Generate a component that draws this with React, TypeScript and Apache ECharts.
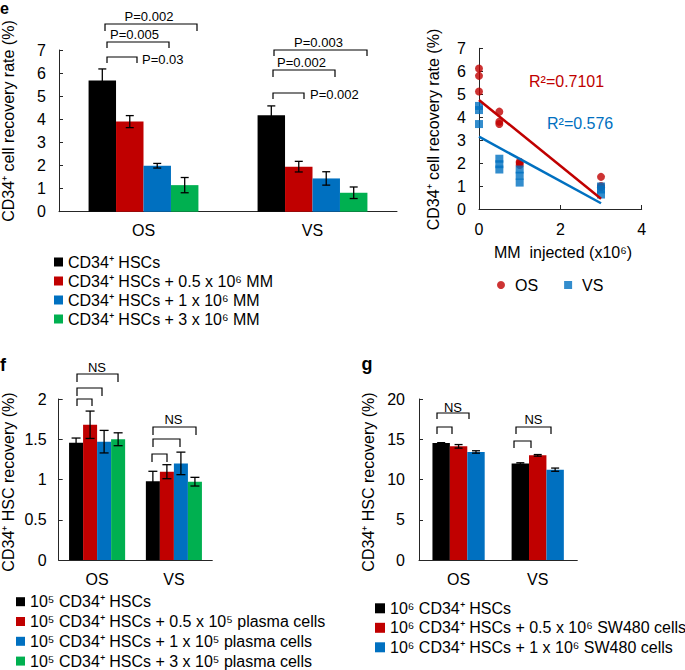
import React, { useEffect, useRef } from 'react';
import * as echarts from 'echarts';

const FONT = '"Liberation Sans", Arial, Helvetica, sans-serif';
const AXIS_COLOR = '#262626';
const barColors = ['#000000', '#C00000', '#0070C0', '#00B050'];
const red = '#C00000';
const blue = '#0070C0';

// ---------- data ----------
const categories = ['OS', 'VS'];

// panel e (means per series: [OS, VS])
const eNames = [
  'CD34⁺ HSCs',
  'CD34⁺ HSCs + 0.5 x 10⁶ MM',
  'CD34⁺ HSCs + 1 x 10⁶ MM',
  'CD34⁺ HSCs + 3 x 10⁶ MM',
];
const eMeans = [
  [5.68, 4.18],
  [3.9, 1.95],
  [1.99, 1.44],
  [1.15, 0.82],
];
const eErrs = [
  [0.5, 0.4],
  [0.26, 0.23],
  [0.1, 0.29],
  [0.33, 0.25],
];

// scatter panel
const mmInjected = [0, 0, 0, 0.5, 0.5, 0.5, 1, 1, 1, 3, 3, 3];
const osRates = [6.12, 5.8, 5.12, 4.24, 3.8, 3.7, 2.06, 2.0, 1.92, 1.4, 1.0, 0.95];
const vsRates = [4.49, 4.31, 3.7, 2.19, 1.95, 1.72, 1.72, 1.45, 1.15, 0.98, 0.85, 0.63];
const osFit = [[0, 4.75], [3, 0.45]];
const vsFit = [[0, 3.15], [3, 0.25]];
const osR2 = 'R²=0.7101';
const vsR2 = 'R²=0.576';

// panel f
const fNames = [
  '10⁵ CD34⁺ HSCs',
  '10⁵ CD34⁺ HSCs + 0.5 x 10⁵ plasma cells',
  '10⁵ CD34⁺ HSCs + 1 x 10⁵ plasma cells',
  '10⁵ CD34⁺ HSCs + 3 x 10⁵ plasma cells',
];
const fMeans = [
  [1.455, 0.977],
  [1.68, 1.097],
  [1.47, 1.2],
  [1.5, 0.973],
];
const fErrs = [
  [0.06, 0.125],
  [0.17, 0.087],
  [0.14, 0.14],
  [0.08, 0.054],
];

// panel g
const gNames = [
  '10⁶ CD34⁺ HSCs',
  '10⁶ CD34⁺ HSCs + 0.5 x 10⁶ SW480 cells',
  '10⁶ CD34⁺ HSCs + 1 x 10⁶ SW480 cells',
];
const gMeans = [
  [14.53, 11.98],
  [14.12, 13.0],
  [13.42, 11.22],
];
const gErrs = [
  [0.05, 0.1],
  [0.22, 0.1],
  [0.15, 0.2],
];

// ---------- annotation layout (pixels) ----------
const brackets = [
  // e OS
  [105, 197, 24, 31], [107, 169, 42, 48], [107, 137, 57, 63],
  // e VS
  [274, 367, 50, 56], [273, 335, 70, 77], [273, 304, 93, 99],
  // f OS
  [77, 118, 374, 382], [77, 102, 388, 396], [77, 92, 399, 406],
  // f VS
  [153, 196, 427, 435], [153, 180, 439, 447], [152, 167, 454, 462],
  // g OS
  [437, 469, 413, 419], [437, 452, 427, 434],
  // g VS
  [516, 551, 427, 434], [514, 531, 441, 448],
];
const smallLabels: [string, number, number, string][] = [
  ['P=0.002', 149, 16, 'center'],
  ['P=0.005', 134.5, 34, 'center'],
  ['P=0.03', 142, 59, 'left'],
  ['P=0.003', 318.5, 42, 'center'],
  ['P=0.002', 301.5, 62, 'center'],
  ['P=0.002', 310, 94, 'left'],
  ['NS', 97, 367, 'center'],
  ['NS', 173.5, 419.5, 'center'],
  ['NS', 453, 407, 'center'],
  ['NS', 533.5, 419.5, 'center'],
];

function txt(text: string, x: number, y: number, size: number, opts: any = {}) {
  const align = opts.align || 'center';
  return {
    type: 'text',
    x,
    y,
    rotation: opts.rotation || 0,
    silent: true,
    style: {
      text,
      x: 0,
      y: 0,
      fill: opts.color || '#000',
      font: `${opts.bold ? 'bold ' : ''}${size}px ${FONT}`,
      align,
      textAlign: align,
      verticalAlign: 'middle',
      textVerticalAlign: 'middle',
    },
  };
}

function catAxis(gridIndex: number) {
  return {
    gridIndex,
    type: 'category',
    data: categories,
    axisLine: { lineStyle: { color: AXIS_COLOR, width: 1 } },
    axisTick: { show: false },
    axisLabel: { color: '#000', fontSize: 16, fontFamily: FONT, margin: 11 },
    splitLine: { show: false },
  };
}

function valAxis(gridIndex: number, min: number, max: number, interval: number, margin = 13) {
  return {
    gridIndex,
    type: 'value',
    min,
    max,
    interval,
    axisLine: { show: true, lineStyle: { color: AXIS_COLOR, width: 1 } },
    axisTick: { show: true, inside: true, length: 4, lineStyle: { color: AXIS_COLOR } },
    axisLabel: { color: '#000', fontSize: 16, fontFamily: FONT, margin },
    splitLine: { show: false },
  };
}

function makeBars(names: string[], means: number[][], axis: number, gap: string) {
  return names.map((name, i) => ({
    type: 'bar',
    name,
    xAxisIndex: axis,
    yAxisIndex: axis,
    data: means[i],
    barGap: '0%',
    barCategoryGap: gap,
    itemStyle: { color: barColors[i] },
    z: 2,
  }));
}

function makeErr(means: number[][], errs: number[][], axis: number, gap: number, cap: number) {
  const n = means.length;
  const data: number[][] = [];
  means.forEach((row, s) => {
    row.forEach((m, c) => {
      data.push([c, s, m - errs[s][c], m + errs[s][c]]);
    });
  });
  return {
    type: 'custom',
    xAxisIndex: axis,
    yAxisIndex: axis,
    data,
    encode: { x: 0, y: [2, 3] },
    z: 5,
    silent: true,
    renderItem: (params: any, api: any) => {
      const c = api.value(0);
      const s = api.value(1);
      const lo = api.value(2);
      const hi = api.value(3);
      const band = api.size([1, 0])[0];
      const bw = (band * (1 - gap)) / n;
      const cx = api.coord([c, 0])[0] + (s - (n - 1) / 2) * bw;
      const yLo = api.coord([c, lo])[1];
      const yHi = api.coord([c, hi])[1];
      const st = { stroke: '#000', lineWidth: 1.3 };
      return {
        type: 'group',
        children: [
          { type: 'line', shape: { x1: cx, y1: yLo, x2: cx, y2: yHi }, style: st },
          { type: 'line', shape: { x1: cx - cap / 2, y1: yHi, x2: cx + cap / 2, y2: yHi }, style: st },
          { type: 'line', shape: { x1: cx - cap / 2, y1: yLo, x2: cx + cap / 2, y2: yLo }, style: st },
        ],
      };
    },
  };
}

function legendBlock(names: string[], left: number, firstRowCenter: number, spacing: number, size: number) {
  return {
    data: names,
    orient: 'vertical',
    left,
    top: firstRowCenter - 8,
    padding: 0,
    itemGap: spacing - 16,
    itemWidth: size,
    itemHeight: size,
    icon: 'rect',
    selectedMode: false,
    textStyle: { fontSize: 16, fontFamily: FONT, color: '#000', lineHeight: 16 },
  };
}

const option: any = {
  animation: false,
  backgroundColor: '#fff',
  textStyle: { fontFamily: FONT },
  grid: [
    { left: 59, top: 50, width: 338, height: 161.7 },
    { left: 479, top: 48.3, width: 162.7, height: 160.7 },
    { left: 58.7, top: 399, width: 153.6, height: 161 },
    { left: 419, top: 399, width: 158.3, height: 161 },
  ],
  xAxis: [
    catAxis(0),
    { ...valAxis(1, 0, 4, 2, 12) },
    catAxis(2),
    catAxis(3),
  ],
  yAxis: [valAxis(0, 0, 7, 1), valAxis(1, 0, 7, 1), valAxis(2, 0, 2, 0.5, 12), valAxis(3, 0, 20, 5, 14)],
  legend: [
    legendBlock(eNames, 54, 262, 19, 9),
    {
      data: [
        { name: 'OS', icon: 'circle' },
        { name: 'VS', icon: 'rect' },
      ],
      orient: 'horizontal',
      left: 497,
      top: 277,
      padding: 0,
      itemGap: 26,
      itemWidth: 8,
      itemHeight: 8,
      selectedMode: false,
      textStyle: { fontSize: 16, fontFamily: FONT, color: '#000', lineHeight: 16, padding: [0, 0, 0, 5] },
    },
    legendBlock(fNames, 16, 601.7, 19.8, 9),
    legendBlock(gNames, 375, 608.3, 19.5, 10),
  ],
  series: [
    ...makeBars(eNames, eMeans, 0, '35%'),
    makeErr(eMeans, eErrs, 0, 0.35, 8),
    {
      type: 'scatter',
      name: 'OS',
      xAxisIndex: 1,
      yAxisIndex: 1,
      symbol: 'circle',
      symbolSize: 8,
      clip: false,
      itemStyle: { color: red },
      data: mmInjected.map((x, i) => [x, osRates[i]]),
      z: 3,
    },
    {
      type: 'scatter',
      name: 'VS',
      xAxisIndex: 1,
      yAxisIndex: 1,
      symbol: 'rect',
      symbolSize: 8,
      clip: false,
      itemStyle: { color: blue },
      data: mmInjected.map((x, i) => [x, vsRates[i]]),
      z: 4,
    },
    {
      type: 'line',
      name: 'VS fit',
      xAxisIndex: 1,
      yAxisIndex: 1,
      showSymbol: false,
      symbol: 'none',
      lineStyle: { color: blue, width: 2.5 },
      data: vsFit,
      z: 5,
    },
    {
      type: 'line',
      name: 'OS fit',
      xAxisIndex: 1,
      yAxisIndex: 1,
      showSymbol: false,
      symbol: 'none',
      lineStyle: { color: red, width: 2.5 },
      data: osFit,
      z: 6,
    },
    ...makeBars(fNames, fMeans, 2, '27%'),
    makeErr(fMeans, fErrs, 2, 0.27, 9),
    ...makeBars(gNames, gMeans, 3, '34%'),
    makeErr(gMeans, gErrs, 3, 0.34, 8),
  ],
  graphic: {
    elements: [
      txt('e', 0, 8.5, 16, { bold: true, align: 'left' }),
      txt('f', 0, 365, 18, { bold: true, align: 'left' }),
      txt('g', 361.5, 364, 18, { bold: true, align: 'left' }),
      txt('CD34⁺ cell recovery rate (%)', 8, 121, 16, { rotation: Math.PI / 2 }),
      txt('CD34⁺ cell recovery rate (%)', 433, 129.5, 16, { rotation: Math.PI / 2 }),
      txt('CD34⁺ HSC recovery (%)', 8, 482, 16, { rotation: Math.PI / 2 }),
      txt('CD34⁺ HSC recovery (%)', 368, 482, 16, { rotation: Math.PI / 2 }),
      txt('MM  injected (x10⁶)', 563, 252.5, 16),
      txt(osR2, 529, 81, 16, { align: 'left', color: red }),
      txt(vsR2, 547, 123, 16, { align: 'left', color: blue }),
      ...smallLabels.map(([t, x, y, a]) => txt(t, x, y, 13, { align: a })),
      ...brackets.map(([x1, x2, top, bot]) => ({
        type: 'polyline',
        silent: true,
        shape: { points: [[x1, bot], [x1, top], [x2, top], [x2, bot]] },
        style: { stroke: '#000', lineWidth: 1.2, fill: null },
      })),
    ],
  },
};

export default function App() {
  const ref = useRef<HTMLDivElement>(null);
  useEffect(() => {
    const chart = echarts.init(ref.current as HTMLDivElement, null, { renderer: 'svg' });
    chart.setOption(option);
    return () => chart.dispose();
  }, []);
  return (
    <div
      ref={ref}
      style={{ position: 'absolute', left: 0, top: 0, width: 685, height: 670, background: '#fff' }}
    />
  );
}
